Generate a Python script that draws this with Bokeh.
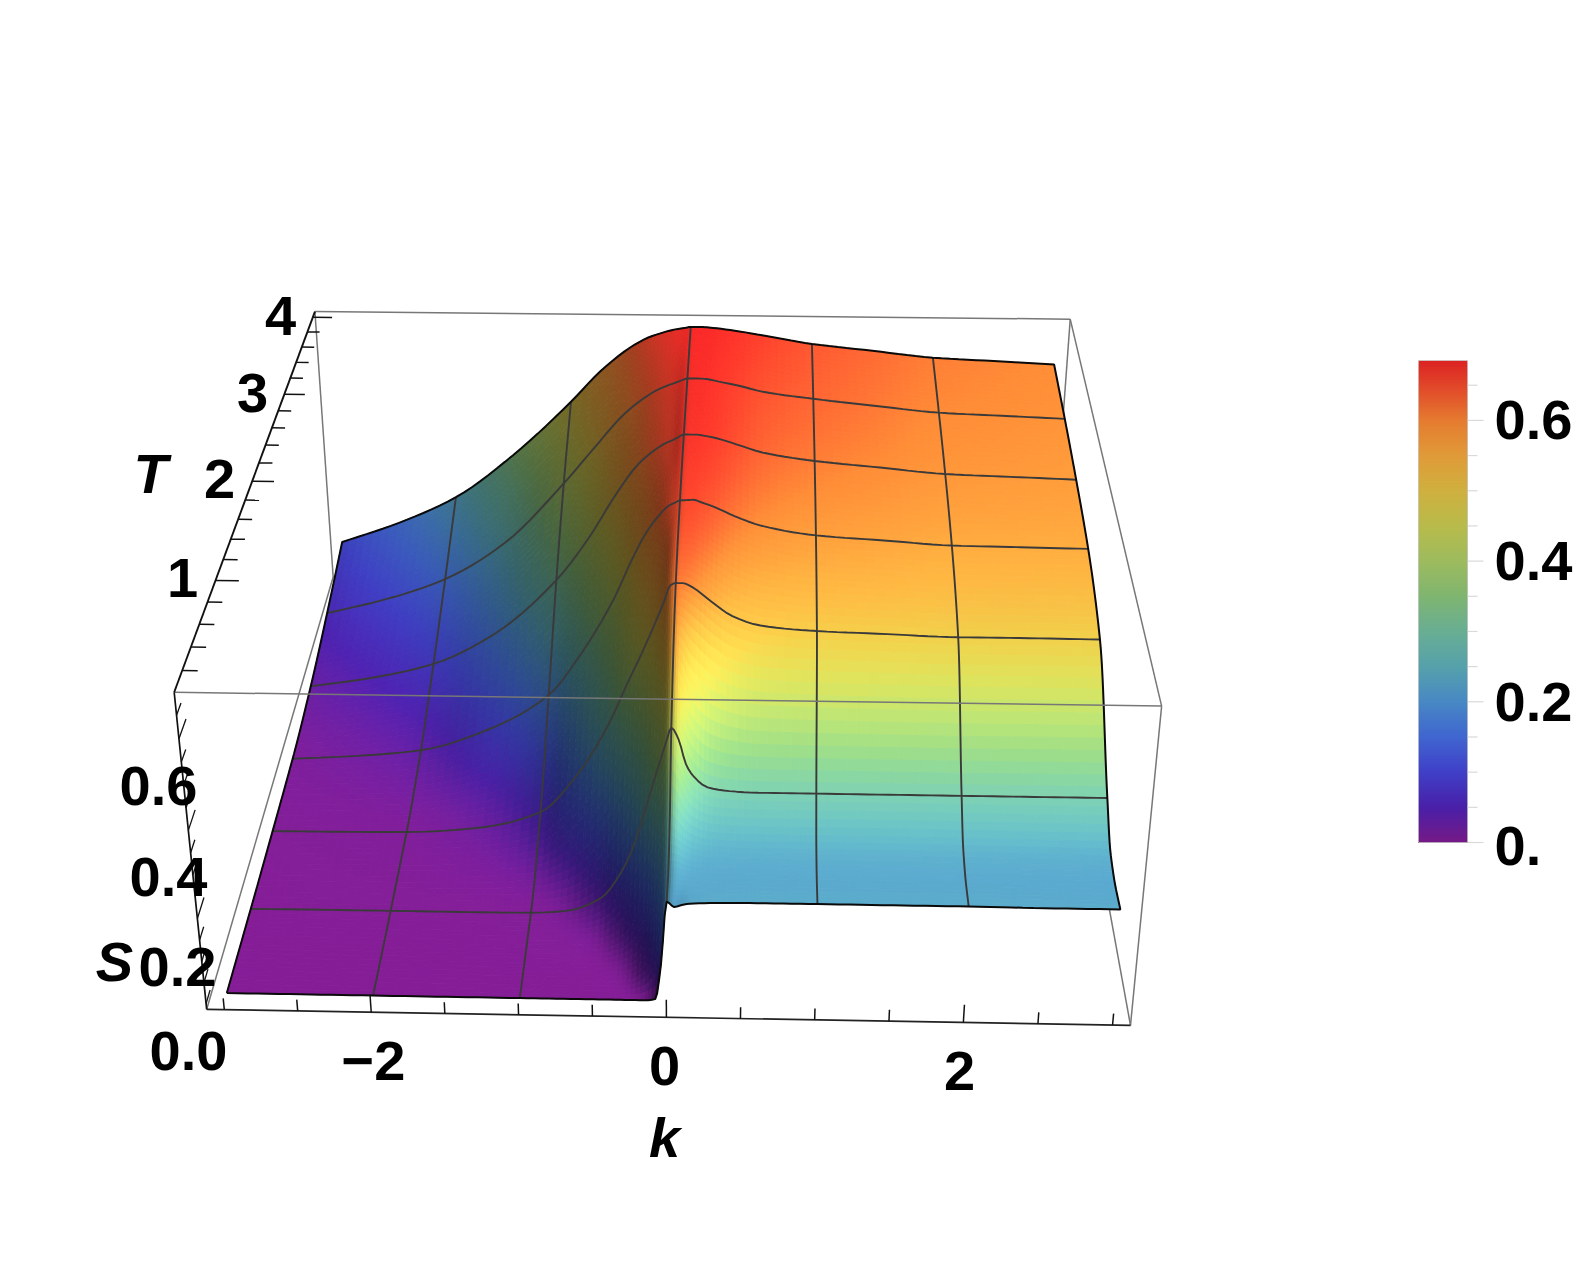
import numpy as np
from bokeh.plotting import figure
from bokeh.models import Range1d
from bokeh.embed import file_html
from bokeh.resources import INLINE
from bokeh.core.properties import value

# ---------- data ----------
K_VALUES = [-3, -2.5, -2, -1.5, -1, -.75, -.5, -.35, -.25, -.15, -.08, -.04, 0, .05, .1, .15, .25, .4, .6, 1, 1.5, 2, 2.5, 3]
T_VALUES = [0.1, 0.3, 0.5, 0.75, 1.4, 2.05, 2.7, 3.35, 4.0]
S_T010 = [.000, .000, .000, .000, .000, .000, .000, .000, .000, .000, .003, .085, .232, .220, .225, .228, .230, .231, .232, .232, .232, .232, .231, .231]
S_T030 = [.000, .000, .000, .000, .000, .000, .000, .003, .010, .047, .124, .180, .235, .236, .232, .230, .229, .228, .228, .228, .228, .228, .227, .226]
S_T050 = [.000, .000, .000, .000, .001, .002, .005, .023, .060, .130, .210, .250, .290, .277, .262, .252, .244, .241, .240, .240, .240, .239, .238, .236]
S_T075 = [.000, .001, .001, .001, .002, .008, .041, .107, .181, .291, .366, .407, .445, .418, .362, .335, .309, .301, .298, .298, .298, .298, .298, .298]
S_T140 = [.002, .003, .005, .017, .060, .143, .271, .376, .444, .517, .572, .606, .612, .612, .606, .596, .571, .538, .517, .506, .501, .496, .496, .495]
S_T205 = [.006, .016, .033, .085, .179, .282, .415, .518, .578, .621, .643, .649, .655, .656, .657, .652, .641, .620, .598, .577, .567, .557, .555, .553]
S_T270 = [.025, .050, .089, .170, .310, .412, .537, .600, .628, .650, .660, .667, .673, .673, .673, .671, .665, .651, .632, .613, .599, .585, .580, .575]
S_T335 = [.060, .100, .156, .253, .411, .502, .590, .628, .648, .662, .670, .675, .679, .679, .679, .678, .672, .663, .648, .632, .616, .601, .595, .589]
S_T400 = [.103, .158, .230, .345, .488, .568, .630, .656, .667, .676, .680, .682, .684, .684, .684, .683, .680, .674, .664, .644, .628, .612, .605, .598]

COLOR_S = [0, .05, .1, .15, .2, .25, .3, .35, .4, .45, .5, .55, .6, .64, .685]
COLOR_HEX = ["#761A86", "#4A20A8", "#4040C8", "#4066D0", "#4888C4", "#56A1AB", "#69AE93", "#7FB570", "#9DBB5E", "#B8BB4B", "#CFB03F", "#E09A38", "#E57B30", "#E2502B", "#DC2323"]

K_TICKS = [-3, -2.5, -2, -1.5, -1, -.5, 0, .5, 1, 1.5, 2, 2.5, 3]
K_MAJOR = [-2, 0, 2]
T_TICKS = [.2, .4, .6, .8, 1, 1.2, 1.4, 1.6, 1.8, 2, 2.2, 2.4, 2.6, 2.8, 3, 3.2, 3.4, 3.6, 3.8, 4]
T_MAJOR = [1, 2, 3, 4]
S_TICKS = [.05, .1, .15, .2, .25, .3, .35, .4, .45, .5, .55, .6, .65]
S_MAJOR = [.2, .4, .6]
BAR_TICKS = [0, .05, .1, .15, .2, .25, .3, .35, .4, .45, .5, .55, .6, .65]
BAR_MAJOR = [0, .2, .4, .6]
MESH_K = [-2, -1, 0, 1, 2]
MESH_T = [.75, 1.4, 2.05, 2.7, 3.35]
KMIN, KMAX, TMIN, TMAX, SMIN, SMAX = -3.12, 3.12, .02, 4.08, -.0137, .6987

# ---------- projection of the box onto the page ----------
CORNERS = [(KMIN, TMIN, SMIN, 206, 1009), (KMAX, TMIN, SMIN, 1130, 1025), (KMIN, TMIN, SMAX, 174, 691), (KMAX, TMIN, SMAX, 1161, 706),
           (KMIN, TMAX, SMAX, 314, 311), (KMAX, TMAX, SMAX, 1070, 319), (KMIN, TMAX, SMIN, 333, 577), (KMAX, TMAX, SMIN, 1050, 585)]
A, b = [], []
for k, T, S, x, y in CORNERS:
    A.append([k, T, S, 1, 0, 0, 0, 0, -x*k, -x*T, -x*S]); b.append(x)
    A.append([0, 0, 0, 0, k, T, S, 1, -y*k, -y*T, -y*S]); b.append(y)
h = np.linalg.lstsq(np.array(A, float), np.array(b, float), rcond=None)[0]
P = np.append(h, 1.0).reshape(3, 4)

def proj(k, T, S):
    k, T, S = np.asarray(k, float), np.asarray(T, float), np.asarray(S, float)
    w = P[2, 0]*k + P[2, 1]*T + P[2, 2]*S + P[2, 3]
    return (P[0, 0]*k + P[0, 1]*T + P[0, 2]*S + P[0, 3])/w, (P[1, 0]*k + P[1, 1]*T + P[1, 2]*S + P[1, 3])/w

# ---------- smooth drawing mesh through the readings ----------
def monotone(x, y, xq):
    x, y = np.asarray(x, float), np.asarray(y, float)
    d = np.diff(y)/np.diff(x)
    m = np.zeros_like(y)
    m[0], m[-1] = d[0], d[-1]
    for i in range(1, len(y)-1):
        if d[i-1]*d[i] > 0:
            h0, h1 = x[i]-x[i-1], x[i+1]-x[i]
            m[i] = 3*(h0+h1)/((2*h1+h0)/d[i-1] + (h1+2*h0)/d[i])
    i = np.clip(np.searchsorted(x, xq, side="right")-1, 0, len(x)-2)
    hh = x[i+1]-x[i]
    t = (xq-x[i])/hh
    return (2*t**3-3*t**2+1)*y[i] + (t**3-2*t**2+t)*hh*m[i] + (-2*t**3+3*t**2)*y[i+1] + (t**3-t**2)*hh*m[i+1]

def refine(vals, step, cap, low):
    out = []
    for a, c in zip(vals[:-1], vals[1:]):
        n = int(np.clip(np.ceil((c-a)/step), low, cap))
        out.extend(np.linspace(a, c, n, endpoint=False))
    out.append(vals[-1])
    return np.array(out)

def blur(a, passes=4):
    for _ in range(passes):
        for axis in (0, 1):
            e = np.concatenate([np.take(a, [0], axis), a, np.take(a, [-1], axis)], axis)
            lo = np.take(e, range(0, e.shape[axis]-2), axis)
            mid = np.take(e, range(1, e.shape[axis]-1), axis)
            hi = np.take(e, range(2, e.shape[axis]), axis)
            a = .25*lo + .5*mid + .25*hi
    return a

S_TABLE = np.array([S_T010, S_T030, S_T050, S_T075, S_T140, S_T205, S_T270, S_T335, S_T400])
kf = refine(K_VALUES, .05, 7, 3)
tf = refine(T_VALUES, .04, 14, 6)
by_k = np.array([monotone(K_VALUES, row, kf) for row in S_TABLE])
SF = np.array([monotone(T_VALUES, by_k[:, j], tf) for j in range(len(kf))]).T
X, Y = proj(*np.meshgrid(kf, tf), SF)

stops = np.array([[int(c[i:i+2], 16) for i in (1, 3, 5)] for c in COLOR_HEX], float)
def base_rgb(s):
    return np.stack([np.interp(s, COLOR_S, stops[:, i]) for i in range(3)], axis=-1)

dSk = np.gradient(SF, kf, axis=1)*3.5
dSt = np.gradient(SF, tf, axis=0)*2.28
rise = np.clip(dSk, 0, None)
fall = np.clip(-dSk, 0, None)
flat = 1/(1 + 3*rise**2)
shade = blur(.42 + .71*flat + .12*np.clip(dSt, 0, 1)*flat + .08*np.clip(fall, 0, 1))
RGB = np.clip(base_rgb(SF)*shade[..., None], 0, 255)

xs, ys, cols = [], [], []
for i in range(len(tf)-2, -1, -1):
    for j in sorted(range(len(kf)-1), key=lambda q: -abs(kf[q])):
        xs.append([X[i, j], X[i, j+1], X[i+1, j+1], X[i+1, j]])
        ys.append([Y[i, j], Y[i, j+1], Y[i+1, j+1], Y[i+1, j]])
        c = (RGB[i, j] + RGB[i, j+1] + RGB[i+1, j] + RGB[i+1, j+1])/4
        cols.append("#%02x%02x%02x" % tuple(int(round(v)) for v in c))

# ---------- page ----------
W, H = 1578, 1249
p = figure(width=W, height=H, x_range=Range1d(0, W), y_range=Range1d(H, 0), toolbar_location=None,
           output_backend="svg", min_border=0, outline_line_color=None, background_fill_color="white")
p.axis.visible = False
p.grid.visible = False

GRAY, GW = "#777777", 1.5
def edge(a, c, color=GRAY, width=GW):
    x, y = proj([a[0], c[0]], [a[1], c[1]], [a[2], c[2]])
    p.line(list(x), list(y), line_color=color, line_width=width)

# back edges (behind the surface)
edge((KMIN, TMAX, SMAX), (KMAX, TMAX, SMAX))
edge((KMIN, TMAX, SMAX), (KMIN, TMAX, SMIN))
edge((KMAX, TMAX, SMAX), (KMAX, TMAX, SMIN))
edge((KMIN, TMAX, SMIN), (KMAX, TMAX, SMIN))
edge((KMIN, TMIN, SMIN), (KMIN, TMAX, SMIN))
edge((KMAX, TMIN, SMIN), (KMAX, TMAX, SMIN))

p.patches(xs, ys, fill_color=cols, fill_alpha=1.0, line_color=cols, line_alpha=1.0, line_width=.9)

# mesh lines
MESH_COLOR, MW = "#3a3a3a", 1.9
for T in MESH_T:
    it = np.argmin(np.abs(tf-T))
    p.line(list(X[it]), list(Y[it]), line_color=MESH_COLOR, line_width=MW)
for k in MESH_K:
    j = np.argmin(np.abs(kf-k))
    p.line(list(X[:, j]), list(Y[:, j]), line_color=MESH_COLOR, line_width=MW)

# surface outline
bx = list(X[0]) + list(X[1:, -1]) + list(X[-1][::-1][1:]) + list(X[::-1, 0][1:])
by = list(Y[0]) + list(Y[1:, -1]) + list(Y[-1][::-1][1:]) + list(Y[::-1, 0][1:])
p.line(bx, by, line_color="#0a0a0a", line_width=2)

# front edges (in front of the surface)
edge((KMIN, TMIN, SMAX), (KMAX, TMIN, SMAX))
edge((KMAX, TMIN, SMAX), (KMAX, TMAX, SMAX))
edge((KMAX, TMIN, SMAX), (KMAX, TMIN, SMIN))
edge((KMIN, TMIN, SMIN), (KMAX, TMIN, SMIN), "#222222", 1.7)
edge((KMIN, TMIN, SMAX), (KMIN, TMAX, SMAX), "#111111", 1.9)
edge((KMIN, TMIN, SMIN), (KMIN, TMIN, SMAX), "#111111", 1.7)

# ticks
for k in K_TICKS:
    edge((k, TMIN, SMIN), (k, TMIN, SMIN + (.042 if k in K_MAJOR else .027)), "#111111", 1.5)
for T in T_TICKS:
    edge((KMIN, T, SMAX), (KMIN + (.16 if T in T_MAJOR else .1), T, SMAX), "#111111", 1.5)
for S in S_TICKS + [0]:
    edge((KMIN, TMIN, S), (KMIN, TMIN + (.16 if S in S_MAJOR else .1), S), "#111111", 1.3)

FONT = value("Liberation Sans")
def label(x, y, s, style="bold", size="56px", align="center"):
    p.text([x], [y], text=[s], text_font=FONT, text_font_size=value(size), text_font_style=style,
           text_align=align, text_baseline="middle", text_color="black")

for x, y, s in [(280, 315, "4"), (252, 392, "3"), (219, 478, "2"), (182, 577, "1"),
                (158, 785, "0.6"), (168, 876, "0.4"), (177, 966, "0.2"), (188, 1050, "0.0"),
                (373, 1060, "\u22122"), (664, 1065, "0"), (959, 1070, "2")]:
    label(x, y, s)
label(150, 473, "T", "bold italic")
label(114, 961, "S", "bold italic")
label(664, 1137, "k", "bold italic")

# colour bar: each band runs down to the foot of the bar and is overpainted by the next one
BL, BR, BB, BT, BPX = 1418, 1467, 842, 360, 703.5
rows = np.arange(BT, BB)
levels = (BB - rows - .5)/BPX
p.quad(left=[BL]*len(rows), right=[BR]*len(rows), top=list(rows), bottom=[BB]*len(rows), fill_alpha=1.0,
       fill_color=["#%02x%02x%02x" % tuple(int(round(v)) for v in base_rgb(l)) for l in levels], line_color=None)
for t in BAR_TICKS:
    yy = BB - t*BPX
    p.line([BR, BR + (16 if t in BAR_MAJOR else 10)], [yy, yy], line_color="#d9d9d9", line_width=1.2)
p.line([BL, BR, BR, BL, BL], [BB, BB, BT, BT, BB], line_color="#c8c8c8", line_width=.8)
for t, s in zip(BAR_MAJOR, ["0.", "0.2", "0.4", "0.6"]):
    label(1494, BB - t*BPX + (3 if t == 0 else 0), s, align="left")

open("out.html", "w").write(file_html(p, INLINE))
